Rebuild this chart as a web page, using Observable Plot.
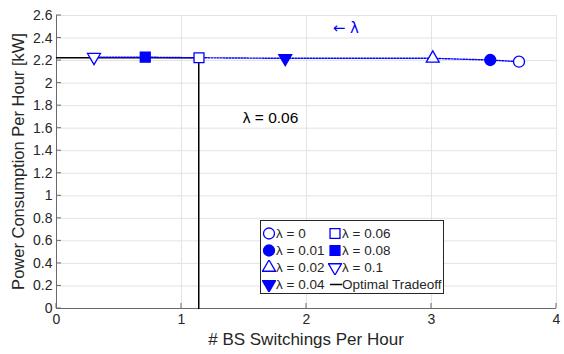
<!DOCTYPE html>
<html>
<head>
<meta charset="utf-8">
<script src="https://cdn.jsdelivr.net/npm/d3@7"></script>
<script src="https://cdn.jsdelivr.net/npm/@observablehq/plot@0.6"></script>
<style>
  body { margin: 0; background: #fff; font-family: "Liberation Sans", Arial, sans-serif; }
  #wrap { position: relative; width: 564px; height: 354px; }
  #legend { position: absolute; left: 260px; top: 220px; width: 182px; height: 72px;
    border: 1px solid #262626; background: #fff; font-size: 13.5px; color: #262626; }
  .item { position: absolute; display: flex; align-items: center; white-space: nowrap; height: 17px; }
</style>
</head>
<body>
<div id="wrap"></div>
<script>
const lambdaLabels = ["0", "0.01", "0.02", "0.04", "0.06", "0.08", "0.1"];
const switchings = [3.70, 3.47, 3.01, 1.83, 1.14, 0.71, 0.30];
const power = [2.19, 2.205, 2.22, 2.22, 2.225, 2.23, 2.23];
const shapes = ["circle", "circle", "triangle", "triangleDown", "square", "square", "triangleDown"];
const filled = [false, true, false, true, false, true, false];

const optX = [0, 1.138, 1.138];
const optY = [2.225, 2.225, 0];

const xTicks = [0, 1, 2, 3, 4];
const yTicks = [0, 0.2, 0.4, 0.6, 0.8, 1, 1.2, 1.4, 1.6, 1.8, 2, 2.2, 2.4, 2.6];

const annotText = ["λ = 0.06", "← λ"];
const annotX = [1.49, 2.21];
const annotY = [1.69, 2.487];
const annotColor = ["#000000", "#0000ff"];

const pts = lambdaLabels.map((l, i) => ({l, x: switchings[i], y: power[i], shape: shapes[i], filled: filled[i]}));
const opt = optX.map((x, i) => ({x, y: optY[i]}));
const ann = annotText.map((t, i) => ({t, x: annotX[i], y: annotY[i], c: annotColor[i]}));

const blue = "#0000ff";
const axisColor = "#262626";
const axisLine = "#6a6a6a";

const triangleDown = {
  draw(context, size) {
    const s = Math.sqrt(size / (Math.sqrt(3) / 4));
    const h = s * Math.sqrt(3) / 2;
    context.moveTo(0, 2 * h / 3);
    context.lineTo(-s / 2, -h / 3);
    context.lineTo(s / 2, -h / 3);
    context.closePath();
  }
};
const symMap = {circle: "circle", square: "square", triangle: "triangle", triangleDown};
const rMap = {circle: 5.5, square: 5.6, triangle: 4.8, triangleDown: 4.8};

const dotMarks = [];
for (const shape of Object.keys(symMap)) {
  for (const f of [true, false]) {
    const d = pts.filter(p => p.shape === shape && p.filled === f);
    if (!d.length) continue;
    dotMarks.push(Plot.dot(d, {x: "x", y: "y", symbol: symMap[shape], r: rMap[shape],
      fill: f ? blue : "white", stroke: blue, strokeWidth: 1.3}));
  }
}

const sorted = pts.slice().sort((a, b) => a.x - b.x);

const chart = Plot.plot({
  width: 564, height: 354,
  marginLeft: 56, marginRight: 8, marginTop: 15, marginBottom: 46,
  style: {fontFamily: '"Liberation Sans", Arial, sans-serif', fontSize: "14px", color: axisColor, background: "white"},
  x: {type: "linear", domain: [0, 4]},
  y: {type: "linear", domain: [0, 2.6]},
  marks: [
    Plot.gridX(xTicks, {stroke: "#e3e3e3", strokeOpacity: 1}),
    Plot.gridY(yTicks, {stroke: "#e3e3e3", strokeOpacity: 1}),
    Plot.axisX(xTicks, {tickSize: 0, tickPadding: 6, label: null, fontSize: 14, fill: axisColor, tickFormat: d => String(d)}),
    Plot.axisY(yTicks, {tickSize: 0, tickPadding: 4, label: null, fontSize: 14, fill: axisColor, tickFormat: d => String(d)}),
    Plot.ruleY([0], {stroke: axisLine}),
    Plot.ruleX([0], {stroke: axisLine}),
    Plot.line(opt, {x: "x", y: "y", stroke: "black", strokeWidth: 1.5}),
    Plot.line(sorted, {x: "x", y: "y", stroke: blue, strokeWidth: 1.4, strokeDasharray: "1.6,1.4"}),
    ...dotMarks,
    Plot.text(ann.slice(0, 1), {x: "x", y: "y", text: "t", fill: "c", textAnchor: "start", fontSize: 15.5}),
    Plot.text(ann.slice(1), {x: "x", y: "y", text: "t", fill: "c", textAnchor: "start", fontSize: 15, fontFamily: "DejaVu Sans"})
  ]
});

const wrap = document.getElementById("wrap");
wrap.appendChild(chart);

// inward ticks
const svg = d3.select(chart);
const xs = chart.scale("x"), ys = chart.scale("y");
const tg = svg.append("g").attr("stroke", axisLine).attr("stroke-width", 1);
for (const t of xTicks) tg.append("line").attr("x1", xs.apply(t)).attr("x2", xs.apply(t)).attr("y1", ys.apply(0)).attr("y2", ys.apply(0) - 5);
for (const t of yTicks) tg.append("line").attr("x1", xs.apply(0)).attr("x2", xs.apply(0) + 5).attr("y1", ys.apply(t)).attr("y2", ys.apply(t));

// axis titles
svg.append("text").attr("x", (xs.apply(0) + xs.apply(4)) / 2).attr("y", 345)
  .attr("text-anchor", "middle").attr("font-size", 17).attr("fill", axisColor).text("# BS Switchings Per Hour");
svg.append("text").attr("transform", `translate(24,${(ys.apply(0) + ys.apply(2.6)) / 2}) rotate(-90)`)
  .attr("text-anchor", "middle").attr("font-size", 16.5).attr("fill", axisColor).text("Power Consumption Per Hour [kW]");

// legend
const legend = document.createElement("div");
legend.id = "legend";
const legendItems = pts.map(p => ({label: "λ = " + p.l, shape: p.shape, filled: p.filled}));
const order = [[0, 0], [1, 0], [2, 0], [3, 0], [4, 1], [5, 1], [6, 1]];
function symSvg(shape, f) {
  const s = d3.create("svg").attr("width", 14).attr("height", 15);
  const sym = shape === "triangleDown" ? triangleDown : ({circle: d3.symbolCircle, square: d3.symbolSquare, triangle: d3.symbolTriangle})[shape];
  const r = rMap[shape];
  s.append("path").attr("transform", "translate(7,7.5)").attr("d", d3.symbol(sym, Math.PI * r * r)())
    .attr("fill", f ? blue : "white").attr("stroke", blue).attr("stroke-width", 1.3);
  return s.node();
}
order.forEach(([i, col], k) => {
  const row = col === 0 ? k : k - 4;
  const it = legendItems[i];
  const div = document.createElement("div");
  div.className = "item";
  div.style.left = (col === 0 ? 1 : 67) + "px";
  div.style.top = (4 + row * 17) + "px";
  div.appendChild(symSvg(it.shape, it.filled));
  div.appendChild(document.createTextNode(it.label));
  legend.appendChild(div);
});
{
  const div = document.createElement("div");
  div.className = "item";
  div.style.left = "67px";
  div.style.top = (4 + 3 * 17) + "px";
  const s = d3.create("svg").attr("width", 14).attr("height", 15);
  s.append("line").attr("x1", 2).attr("x2", 14).attr("y1", 7.5).attr("y2", 7.5).attr("stroke", "black").attr("stroke-width", 1.5);
  div.appendChild(s.node());
  div.appendChild(document.createTextNode("Optimal Tradeoff"));
  legend.appendChild(div);
}
wrap.appendChild(legend);
</script>
</body>
</html>
